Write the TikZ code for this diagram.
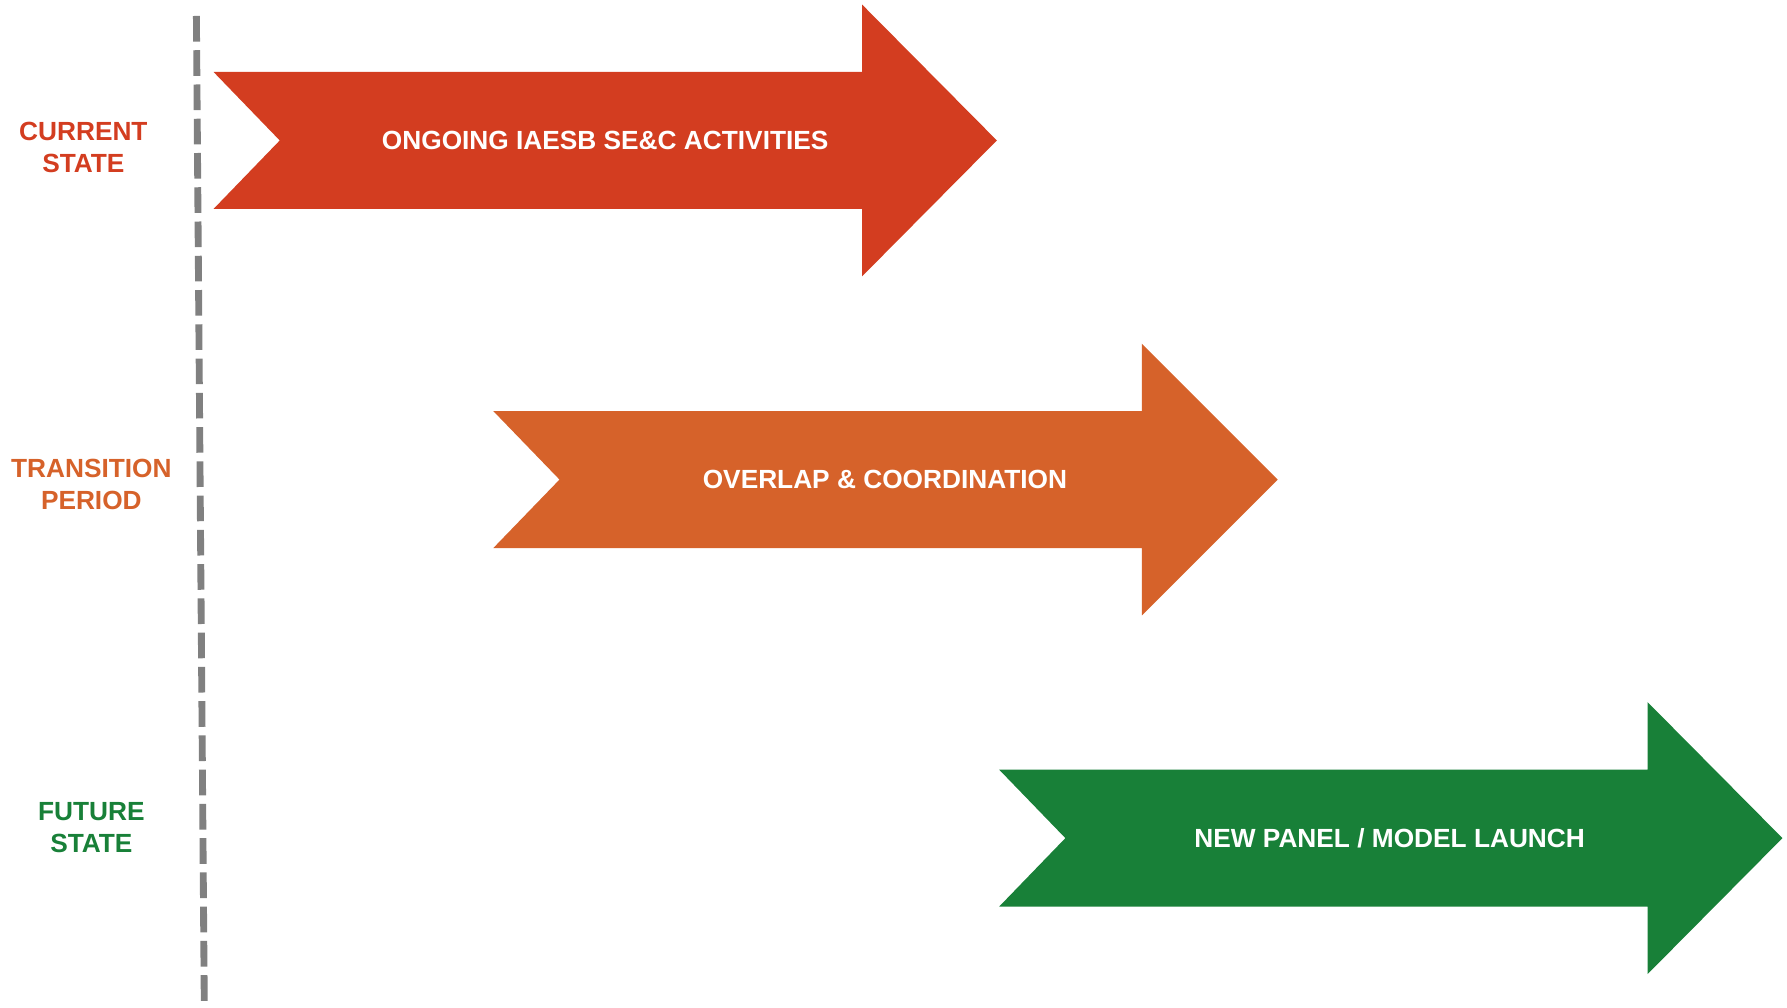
\documentclass[tikz,border=0pt]{standalone}
\usepackage{fontspec}
\setmainfont{Liberation Sans}
\definecolor{cred}{RGB}{211,61,32}
\definecolor{corange}{RGB}{214,98,42}
\definecolor{cgreen}{RGB}{24,128,56}
\definecolor{cgray}{RGB}{128,128,128}
\begin{document}
\begin{tikzpicture}[x=0.5pt,y=-0.5pt,
  lbl/.style={font=\fontsize{11.5}{14}\selectfont\bfseries, align=center, inner sep=0pt},
  intxt/.style={font=\fontsize{11.5}{14}\selectfont\bfseries, text=white, inner sep=0pt},
  divider/.style={draw=cgray, line width=3pt, dash pattern=on 11.25pt off 3.75pt}]
\useasboundingbox (0,0) rectangle (1565,882);
\clip (0,0) rectangle (1565,882);
% divider
\coordinate (dtop) at (172,14);
\coordinate (dbot) at (179,890);
\draw[divider] (dtop) -- (dbot);
% arrows: tail x, notch offset 58, head x, tip x, center y
\newcommand{\myarrow}[5]{%
  \fill[#5] (#1,#4-60) -- (#2,#4-60) -- (#2,#4-119) -- (#3,#4) -- (#2,#4+119) -- (#2,#4+60) -- (#1,#4+60) -- (#1+58,#4) -- cycle;}
\myarrow{187}{755}{873}{123}{cred}
\myarrow{432}{1000}{1119}{420}{corange}
\myarrow{875}{1443}{1561}{734}{cgreen}
\node[intxt] (t1) at (530,123) {ONGOING IAESB SE\&C ACTIVITIES};
\node[intxt] (t2) at (775,420) {OVERLAP \& COORDINATION};
\node[intxt] (t3) at (1217,734) {NEW PANEL / MODEL LAUNCH};
\node[lbl, text=cred] (l1) at (73,129) {CURRENT\\STATE};
\node[lbl, text=corange] (l2) at (80,424) {TRANSITION\\PERIOD};
\node[lbl, text=cgreen] (l3) at (80,725) {FUTURE\\STATE};
\end{tikzpicture}
\end{document}
